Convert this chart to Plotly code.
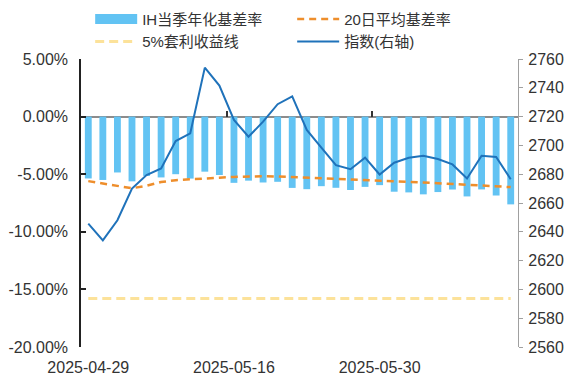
import plotly.graph_objects as go

# ---------------- data ----------------
dates = ["2025-04-29", "2025-04-30", "2025-05-06", "2025-05-07", "2025-05-08",
         "2025-05-09", "2025-05-12", "2025-05-13", "2025-05-14", "2025-05-15",
         "2025-05-16", "2025-05-19", "2025-05-20", "2025-05-21", "2025-05-22",
         "2025-05-23", "2025-05-26", "2025-05-27", "2025-05-28", "2025-05-29",
         "2025-05-30", "2025-06-03", "2025-06-04", "2025-06-05", "2025-06-06",
         "2025-06-09", "2025-06-10", "2025-06-11", "2025-06-12", "2025-06-13"]

basis_rate = [-5.37, -5.50, -4.85, -5.62, -5.15, -5.28, -5.00, -5.38, -4.78, -5.07,
              -5.75, -5.56, -5.72, -5.66, -6.19, -6.30, -6.04, -6.18, -6.37, -6.10,
              -5.95, -6.52, -6.58, -6.75, -6.55, -6.33, -6.93, -6.32, -6.85, -7.62]

avg20_rate = [-5.60, -5.80, -6.00, -6.22, -6.00, -5.68, -5.52, -5.43, -5.37, -5.30,
              -5.24, -5.18, -5.18, -5.20, -5.25, -5.30, -5.35, -5.38, -5.43, -5.46,
              -5.52, -5.58, -5.64, -5.72, -5.78, -5.84, -5.92, -5.98, -6.06, -6.12]

arb_level = -15.8
arb_line = [arb_level] * len(dates)

index_value = [2645.7, 2634.0, 2648.0, 2670.0, 2679.4, 2684.0, 2703.0, 2708.4, 2754.0, 2741.5,
               2717.7, 2706.0, 2716.5, 2728.6, 2734.0, 2710.7, 2698.4, 2686.3, 2683.5, 2691.5,
               2679.8, 2688.0, 2691.4, 2692.8, 2690.5, 2686.8, 2677.0, 2692.8, 2692.0, 2676.5]

label_dates = [dates[0], dates[10], dates[20]]
left_ticks = [-20, -15, -10, -5, 0, 5]
left_labels = ["-20.00%", "-15.00%", "-10.00%", "-5.00%", "0.00%", "5.00%"]
right_ticks = [2560, 2580, 2600, 2620, 2640, 2660, 2680, 2700, 2720, 2740, 2760]
boundary_ticks = [-0.5, 9.5, 19.5, 29.5]

names = ["IH当季年化基差率", "20日平均基差率", "5%套利收益线", "指数(右轴)"]

# ---------------- style ----------------
C_BAR = "#62C3F3"
C_ORANGE = "#EE8E2C"
C_YELLOW = "#FCE29A"
C_LINE = "#1F72BA"
FONT = "Liberation Sans, Arial, Noto Sans CJK SC, sans-serif"
TXT = "#333333"
FS = 16

fig = go.Figure()
fig.add_trace(go.Bar(x=dates, y=basis_rate, marker_color=C_BAR, marker_line_width=0,
                     showlegend=False, name=names[0]))
fig.add_trace(go.Scatter(x=[None], y=[None], mode="lines",
                         line=dict(color=C_BAR, width=11), name=names[0]))
fig.add_trace(go.Scatter(x=dates, y=avg20_rate, mode="lines", name=names[1],
                         line=dict(color=C_ORANGE, width=2.5, dash="7px,5px")))
fig.add_trace(go.Scatter(x=dates, y=arb_line, mode="lines", name=names[2],
                         line=dict(color=C_YELLOW, width=3, dash="9px,5px")))
fig.add_trace(go.Scatter(x=dates, y=index_value, mode="lines", name=names[3], yaxis="y2",
                         line=dict(color=C_LINE, width=2)))
# helper trace for tick marks on the zero line
fig.add_trace(go.Scatter(x=[0], y=[None], xaxis="x2", showlegend=False, hoverinfo="skip"))

# page body has an 8px default margin; size the figure so it fills the 573x381 window
fig.update_layout(
    width=565, height=373, autosize=False,
    margin=dict(l=73, r=55, t=51, b=34, autoexpand=False),
    paper_bgcolor="white", plot_bgcolor="white",
    font=dict(family=FONT, size=FS, color=TXT),
    bargap=0.53,
    showlegend=True,
    legend=dict(orientation="h", x=0.021, xanchor="left", y=1.195, yanchor="top",
                entrywidth=145, entrywidthmode="pixels", itemwidth=42,
                font=dict(family=FONT, size=15, color=TXT), traceorder="normal",
                bgcolor="rgba(0,0,0,0)"),
    xaxis=dict(type="category", range=[-0.5, 29.5], tickvals=label_dates, ticktext=label_dates,
               ticks="", showline=False, showgrid=False, zeroline=False,
               tickfont=dict(size=FS), ticklabelstandoff=9),
    xaxis2=dict(type="linear", overlaying="x", anchor="free", position=0.8,
                range=[-0.5, 29.5], tickvals=boundary_ticks, ticks="inside", ticklen=6,
                tickcolor="#333333", tickwidth=1.5, showticklabels=False, showline=False,
                showgrid=False, zeroline=False),
    yaxis=dict(range=[-20, 5], tickvals=left_ticks, ticktext=left_labels,
               showline=True, linecolor="#222222", linewidth=1.5, ticks="inside",
               ticklen=5, tickcolor="#222222", tickwidth=1.5, showgrid=False,
               zeroline=True, zerolinecolor="#8c8c8c", zerolinewidth=2,
               ticklabelstandoff=8, tickfont=dict(size=FS)),
    yaxis2=dict(range=[2560, 2760], tickvals=right_ticks, overlaying="y", side="right",
                showline=True, linecolor="#a0a0a0", linewidth=1.2, ticks="outside",
                ticklen=4, tickcolor="#a0a0a0", showgrid=False, zeroline=False,
                ticklabelstandoff=2, tickfont=dict(size=FS)),
)

fig.write_html("out.html")
